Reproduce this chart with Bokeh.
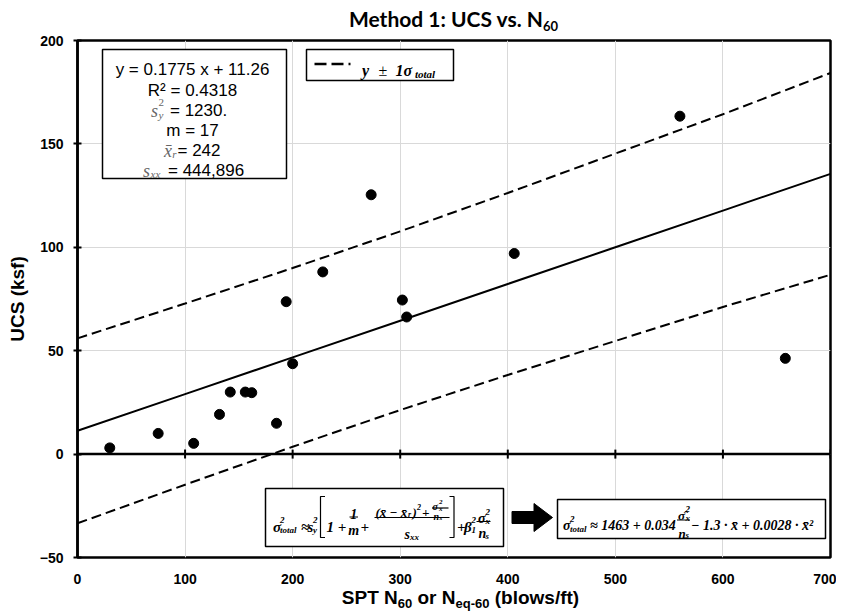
import numpy as np
from bokeh.plotting import figure
from bokeh.models import FixedTicker, Span, Label, Range1d, Div
from bokeh.layouts import column
from bokeh.embed import file_html
from bokeh.resources import INLINE

# ---------------- data ----------------
spt_n60 = [30, 75, 108, 132, 142, 156, 162, 185, 194, 200, 228, 273, 302, 306, 406, 560, 658]
ucs_ksf = [3.0, 10.0, 5.2, 19.2, 30.0, 30.0, 29.7, 14.9, 73.7, 43.7, 88.1, 125.4, 74.5, 66.3, 97.0, 163.4, 46.3]
fit_slope = 0.1775
fit_intercept = 11.26
sigma_x = [0, 100, 200, 300, 400, 500, 600, 700]
sigma_total = [44.7, 43.8, 43.2, 43.2, 44.0, 45.3, 46.6, 48.8]
x_ticks = [0, 100, 200, 300, 400, 500, 600, 700]
y_ticks = [-50, 0, 50, 100, 150, 200]

# ---------------- layout constants (page px) ----------------
TITLE_H = 32
FL, FT, FW, FH = 77, 40, 753, 517   # frame position on the page
TOTAL_W = 836

p = figure(frame_width=FW, frame_height=FH,
           x_range=Range1d(0, 700), y_range=Range1d(-50, 200),
           output_backend="svg", toolbar_location=None,
           min_border_left=FL, min_border_right=TOTAL_W - FL - FW,
           min_border_top=FT - TITLE_H, min_border_bottom=30)
p.background_fill_color = "white"
p.border_fill_color = "white"
p.outline_line_color = "black"
p.outline_line_width = 2.5
p.margin = 0


def X(px):
    return (px - FL) * 700.0 / FW


def Y(py):
    return 200.0 - (py - FT) * 250.0 / FH


# axes
p.xaxis.ticker = FixedTicker(ticks=x_ticks)
p.yaxis.ticker = FixedTicker(ticks=y_ticks)
p.xaxis.axis_line_color = None
p.xaxis.major_tick_line_color = None
p.xaxis.minor_tick_line_color = None
p.xaxis.major_label_standoff = 10
p.yaxis.axis_line_color = "black"
p.yaxis.axis_line_width = 2.5
p.yaxis.major_tick_in = 4
p.yaxis.major_tick_out = 4
p.yaxis.major_tick_line_width = 2
p.yaxis.major_tick_line_color = "black"
p.yaxis.minor_tick_line_color = None
p.yaxis.major_label_standoff = 10
p.yaxis.axis_label = "UCS (ksf)"
p.yaxis.axis_label_text_font = "Liberation Sans"
p.yaxis.axis_label_text_font_style = "bold"
p.yaxis.axis_label_text_font_size = "19px"
p.yaxis.axis_label_text_color = "black"
p.yaxis.axis_label_standoff = 9
for ax in (p.xaxis, p.yaxis):
    ax.major_label_text_font = "Liberation Sans"
    ax.major_label_text_font_style = "bold"
    ax.major_label_text_font_size = "14px"
    ax.major_label_text_color = "black"

p.xgrid.ticker = FixedTicker(ticks=x_ticks)
p.ygrid.ticker = FixedTicker(ticks=y_ticks)
for g in (p.xgrid, p.ygrid):
    g.grid_line_color = "#d9d9d9"
    g.grid_line_width = 1

# horizontal axis crossing at y = 0
p.add_layout(Span(location=0, dimension="width", line_color="black",
                  line_width=2.5, level="underlay"))
p.scatter(x=x_ticks[1:], y=[0] * (len(x_ticks) - 1), marker="dash",
          angle=np.pi / 2, size=9, line_width=2, line_color="black")

# ---------------- series ----------------
xs = np.array(sigma_x, dtype=float)
fit = fit_intercept + fit_slope * xs
sig = np.array(sigma_total)
p.line(xs, fit, line_color="black", line_width=2)
p.line(xs, fit + sig, line_color="black", line_width=2, line_dash="10 5")
p.line(xs, fit - sig, line_color="black", line_width=2, line_dash="10 5")
p.scatter(spt_n60, ucs_ksf, size=10, fill_color="black", line_color="black")


# ---------------- boxes ----------------
def box(l, t, r, b, lw=1.5):
    p.quad(left=[X(l)], right=[X(r)], top=[Y(t)], bottom=[Y(b)],
           fill_color="white", line_color="black", line_width=lw)


box(102, 49, 286, 178)
box(306, 49, 453, 80)
box(265, 488, 503, 546)
box(557, 499, 825, 538)

# legend sample
p.line([X(314), X(350)], [Y(63.5), Y(63.5)], line_color="black",
       line_width=2.5, line_dash="12 5")

# brackets and fraction bars in formula boxes
segs = [
    [(324.5, 496), (320, 496), (320, 537), (324.5, 537)],   # [
    [(449, 496), (453.5, 496), (453.5, 537), (449, 537)],   # ]
    [(349, 516.5), (357.5, 516.5)],                          # 1/m
    [(374, 517), (449, 517)],                                # big fraction
    [(431.5, 507.5), (448, 507.5)],                          # inner fraction
    [(476, 521), (490, 521)],                                # sigma_x^2/n_s
    [(676.5, 519.5), (689.5, 519.5)],                        # formula 2 fraction
]
p.multi_line([[X(a) for a, _ in s] for s in segs],
              [[Y(b) for _, b in s] for s in segs],
              line_color="black", line_width=1.2)

# arrow
arrow = [(511.5, 511), (533.5, 511), (533.5, 503), (552, 517),
         (533.5, 531), (533.5, 523), (511.5, 523)]
p.patch([X(a) for a, _ in arrow], [Y(b) for _, b in arrow], color="black")


# ---------------- texts inside the plot area ----------------
def lab(px, py, text, size, font="Liberation Sans", style="normal",
        align="left", color="black", baseline="alphabetic"):
    p.add_layout(Label(x=X(px), y=Y(py), text=text, text_font=font,
                       text_font_size=f"{size}px", text_font_style=style,
                       text_align=align, text_baseline=baseline,
                       text_color=color))


SERIF = "Liberation Serif"
GREY = "#666666"
BI = "bold italic"

# statistics box
lab(192, 69, "y = 0.1775 x + 11.26", 17, align="center")
lab(192, 90, "R² = 0.4318", 17, align="center")
lab(157.5, 110, "s", 18, font=SERIF, style="italic", align="right", color=GREY)
lab(158, 102, "2", 11, font=SERIF, color=GREY)
lab(158, 114, "y", 11, font=SERIF, style="italic", color=GREY)
lab(169.5, 110, "= 1230.", 17)
lab(192, 130, "m = 17", 17, align="center")
lab(171.5, 150, "x\u0304", 18, font=SERIF, style="italic", align="right", color=GREY)
lab(171.8, 153, "r", 11, font=SERIF, style="italic", color=GREY)
lab(177, 150, "= 242", 17)
lab(149.5, 170, "s", 18, font=SERIF, style="italic", align="right", color=GREY)
lab(150, 173.5, "xx", 11, font=SERIF, style="italic", color=GREY)
lab(167.5, 170, "= 444,896", 17)

# legend text
lab(361.5, 70, "y", 16, font=SERIF, style=BI)
lab(378, 70, "±", 16, font=SERIF)
lab(395, 70, "1σ", 16, font=SERIF, style=BI)
lab(414.5, 73, "total", 11, font=SERIF, style=BI)

# formula 1
f1 = [
    ("σ", 272.5, 526, 15), ("2", 279.5, 519, 9), ("total", 279.5, 529, 9),
    ("≈", 300.5, 526, 15),
    ("s", 307, 526, 15), ("2", 312.5, 519, 9), ("y", 312.5, 529, 9),
    ("1 +", 326, 526, 15),
    ("+", 360, 526, 15),
    ("(x\u0304 − x\u0304", 375, 512, 13), ("r", 407.5, 514, 8), (")", 412, 512, 13),
    ("2", 416.5, 506, 8), ("+", 421.5, 512, 13),
    ("σ", 432, 505.5, 10), ("2", 438.5, 501, 7), ("x", 438.5, 508, 7),
    ("n", 433, 515.5, 10), ("s", 439, 517, 7),
    ("s", 404, 533.5, 14), ("xx", 409.5, 536, 9),
    ("+", 456.5, 526, 15),
    ("β", 463.5, 526, 15), ("2", 471, 519, 9), ("1", 471, 529, 9),
    ("σ", 477.5, 517.5, 14), ("2", 485, 511.5, 9), ("x", 485, 520, 9),
    ("n", 478, 533, 14), ("s", 485, 535.5, 9),
]
for t, x0, y0, s in f1:
    lab(x0, y0, t, s, font=SERIF, style=BI)
lab(353.3, 513, "1", 14, font=SERIF, style=BI, align="center")
lab(353.3, 529.5, "m", 14, font=SERIF, style=BI, align="center")

# formula 2
f2 = [
    ("σ", 562.5, 525, 14), ("2", 569.5, 518, 9), ("total", 569.5, 528.5, 9),
    ("≈ 1463 + 0.034", 589.5, 525, 14),
    ("σ\u0302", 677.5, 514.5, 13), ("2", 685, 508.5, 9), ("x", 685, 517, 9),
    ("n", 678, 532.5, 13), ("s", 685, 534.5, 9),
    ("− 1.3 · x\u0304 + 0.0028 · x\u0304²", 690.5, 525, 14),
]
for t, x0, y0, s in f2:
    lab(x0, y0, t, s, font=SERIF, style=BI)

# ---------------- title and x-axis title (HTML, real sub-scripts) ----------------
sub = '<span style="font-size:13px;position:relative;top:4px">{}</span>'
title_div = Div(
    text=('<div style="width:%dpx;margin-left:%dpx;text-align:center;'
          'font-family:Lato;font-weight:bold;font-size:21px;line-height:32px;'
          'white-space:nowrap;position:relative;top:3px;color:black">'
          'Method 1: UCS vs. N%s</div>') % (FW, FL, sub.format("60")),
    width=TOTAL_W, height=TITLE_H, margin=0)

xtitle_div = Div(
    text=('<div style="width:751px;margin-left:85px;text-align:center;'
          'font-family:\'Liberation Sans\';font-weight:bold;font-size:19px;'
          'line-height:21px;white-space:nowrap;color:black">'
          'SPT N%s or N%s (blows/ft)</div>') % (sub.format("60"), sub.format("eq-60")),
    width=TOTAL_W, height=25, margin=0)

layout = column(title_div, p, xtitle_div, spacing=0, margin=0)

open("out.html", "w").write(file_html(layout, INLINE))
